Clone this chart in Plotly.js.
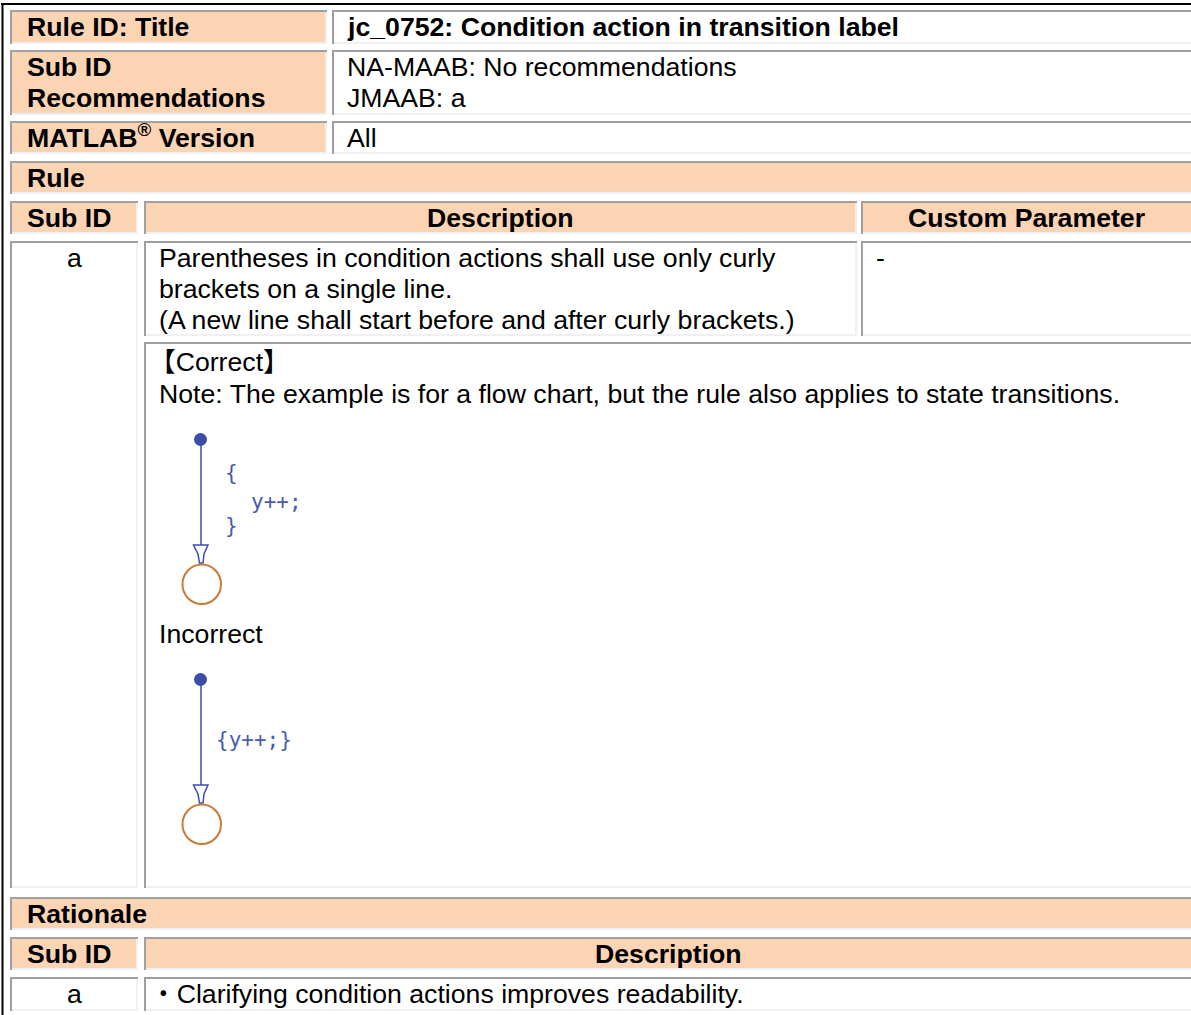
<!DOCTYPE html>
<html>
<head>
<meta charset="utf-8">
<script src="https://cdn.plot.ly/plotly-3.0.1.min.js"></script>
<style>html,body{margin:0;padding:0;background:#fff;}#chart{width:1191px;height:1015px;}</style>
</head>
<body>
<div id="chart"></div>
<script>
// ---------- content ----------
const metaLabels = ['Rule ID: Title', 'Sub ID\nRecommendations', 'MATLAB<sup>®</sup> Version'];
const metaValues = ['jc_0752: Condition action in transition label', 'NA-MAAB: No recommendations\nJMAAB: a', 'All'];
const sectionTitles = ['Rule', 'Rationale'];
const ruleHeaders = ['Sub ID', 'Description', 'Custom Parameter'];
const rationaleHeaders = ['Sub ID', 'Description'];
const subIds = ['a'];
const ruleDescriptions = ['Parentheses in condition actions shall use only curly\nbrackets on a single line.\n(A new line shall start before and after curly brackets.)'];
const customParameters = ['-'];
const exampleTexts = ['【Correct】', 'Note: The example is for a flow chart, but the rule also applies to state transitions.', 'Incorrect'];
const correctLabel = ['{', 'y++;', '}'];
const incorrectLabel = ['{y++;}'];
const rationaleDescriptions = ['・Clarifying condition actions improves readability.'];

// ---------- layout geometry & style ----------
const W = 1191, H = 1015;
const PEACH = '#FBD4B4', DARK = '#A0A0A0', LIGHT = '#F0F0F0';
const FONT = 'Liberation Sans, Arial, Noto Sans CJK JP, sans-serif';
const FS = 26.67, LH = 30.8;
const colL = [10, 327, 332, 1198];      // meta columns
const colS = [10, 138, 144, 857, 861, 1198]; // sub id / description / custom
const shapes = [], annotations = [];

function cell(x0, x1, y0, y1, fill) {
  shapes.push({type:'rect', xref:'x', yref:'y', x0:x0, x1:x1, y0:y0, y1:y1, fillcolor:fill, line:{width:0}, layer:'below'});
  shapes.push({type:'path', xref:'x', yref:'y', path:`M${x1-1},${y0} L${x1-1},${y1-1} L${x0},${y1-1}`, line:{color:LIGHT, width:2}});
  shapes.push({type:'path', xref:'x', yref:'y', path:`M${x0+1},${y1} L${x0+1},${y0+1} L${x1},${y0+1}`, line:{color:DARK, width:2}});
}
function txt(x, y, s, o) {
  o = o || {};
  s.split('\n').forEach((line, i) => {
    annotations.push({xref:'x', yref:'y', x:x, y:y + i * (o.lh || LH), text:line, showarrow:false,
      xanchor:o.xa || 'left', yanchor:'middle', borderpad:0, borderwidth:0,
      font:{family:o.family || FONT, size:o.size || FS, color:o.color || '#000', weight:o.bold ? 'bold' : 'normal'}});
  });
}

// meta rows
const metaRows = [[10, 44], [50, 115], [121, 154]];
const labelShift = [0, 0, -2];
metaRows.forEach((r, i) => {
  cell(colL[0], colL[1], r[0], r[1], PEACH);
  cell(colL[2], colL[3], r[0], r[1], '#fff');
  const nl = metaLabels[i].split('\n').length;
  const yc = (r[0] + r[1]) / 2 - (nl - 1) * LH / 2 + labelShift[i];
  txt(colL[0] + 17, yc, metaLabels[i], {bold:true});
  const nv = metaValues[i].split('\n').length;
  txt(colL[2] + 15, (r[0] + r[1]) / 2 - (nv - 1) * LH / 2, metaValues[i], {bold:i === 0});
});

// Rule section
cell(10, 1198, 161, 194, PEACH);
txt(27, 177.5, sectionTitles[0], {bold:true});
cell(colS[0], colS[1], 201, 234, PEACH);
cell(colS[2], colS[3], 201, 234, PEACH);
cell(colS[4], colS[5], 201, 234, PEACH);
txt(27, 217.5, ruleHeaders[0], {bold:true});
txt((colS[2] + colS[3]) / 2, 217.5, ruleHeaders[1], {bold:true, xa:'center'});
txt(1026, 217.5, ruleHeaders[2], {bold:true, xa:'center'});

cell(colS[0], colS[1], 241, 888, '#fff');
cell(colS[2], colS[3], 241, 336, '#fff');
cell(colS[4], colS[5], 241, 336, '#fff');
cell(colS[2], colS[5], 342, 888, '#fff');
txt((colS[0] + colS[1]) / 2, 258, subIds[0], {xa:'center'});
txt(colS[2] + 15, 258, ruleDescriptions[0]);
txt(colS[4] + 15, 258, customParameters[0]);
txt(colS[2] + 5, 362, exampleTexts[0]);
txt(colS[2] + 15, 394, exampleTexts[1]);
txt(colS[2] + 15, 634, exampleTexts[2]);

// Rationale section
cell(10, 1198, 897, 930, PEACH);
txt(27, 913.5, sectionTitles[1], {bold:true});
cell(colS[0], colS[1], 937, 970, PEACH);
cell(colS[2], colS[5], 937, 970, PEACH);
txt(27, 953.5, rationaleHeaders[0], {bold:true});
txt(668, 953.5, rationaleHeaders[1], {bold:true, xa:'center'});
cell(colS[0], colS[1], 977, 1011, '#fff');
cell(colS[2], colS[5], 977, 1011, '#fff');
txt((colS[0] + colS[1]) / 2, 994, subIds[0], {xa:'center'});
txt(colS[2] + 6, 994, rationaleDescriptions[0]);

// outer frame
shapes.push({type:'line', xref:'x', yref:'y', x0:1, x1:1198, y0:4, y1:4, line:{color:'#000', width:2}});
shapes.push({type:'line', xref:'x', yref:'y', x0:2.5, x1:2.5, y0:3, y1:1020, line:{color:'#000', width:2}});

// flow chart diagrams
const BLUE = '#3d4da6', ORANGE = '#c97a35';
const diagTop = [439, 679];
const stemX = 201;
const traces = [];
diagTop.forEach(top => {
  traces.push({type:'scatter', mode:'lines', x:[stemX, stemX], y:[top, top + 106], line:{color:BLUE, width:1.5}, hoverinfo:'skip', showlegend:false});
  traces.push({type:'scatter', mode:'markers', x:[stemX - 0.5], y:[top + 0.5], marker:{color:BLUE, size:13, line:{width:0}}, hoverinfo:'skip', showlegend:false});
  const a = top + 106;
  shapes.push({type:'path', xref:'x', yref:'y', path:`M193.5,${a} L208,${a} L204,${a+9} L203,${a+18} L199.5,${a+18} L198,${a+9} Z`, fillcolor:'#fff', line:{color:BLUE, width:1.5}});
  shapes.push({type:'circle', xref:'x', yref:'y', x0:182.5, x1:221, y0:a + 19.5, y1:a + 59, line:{color:ORANGE, width:2}});
});
const MONO = {family:'DejaVu Sans Mono, Liberation Mono, monospace', size:21, color:'#4a5aae', lh:1};
txt(231, 473, correctLabel[0], Object.assign({xa:'center'}, MONO));
txt(251, 502, correctLabel[1], MONO);
txt(231, 526, correctLabel[2], Object.assign({xa:'center'}, MONO));
txt(216, 740, incorrectLabel[0], MONO);

const layout = {
  width: W, height: H,
  margin: {l:0, r:0, t:0, b:0, pad:0},
  paper_bgcolor: '#fff', plot_bgcolor: '#fff',
  xaxis: {range:[0, W], visible:false, fixedrange:true},
  yaxis: {range:[H, 0], visible:false, fixedrange:true},
  shapes: shapes,
  annotations: annotations,
  showlegend: false
};
Plotly.newPlot('chart', traces, layout, {displayModeBar:false, staticPlot:true});
</script>
</body>
</html>
